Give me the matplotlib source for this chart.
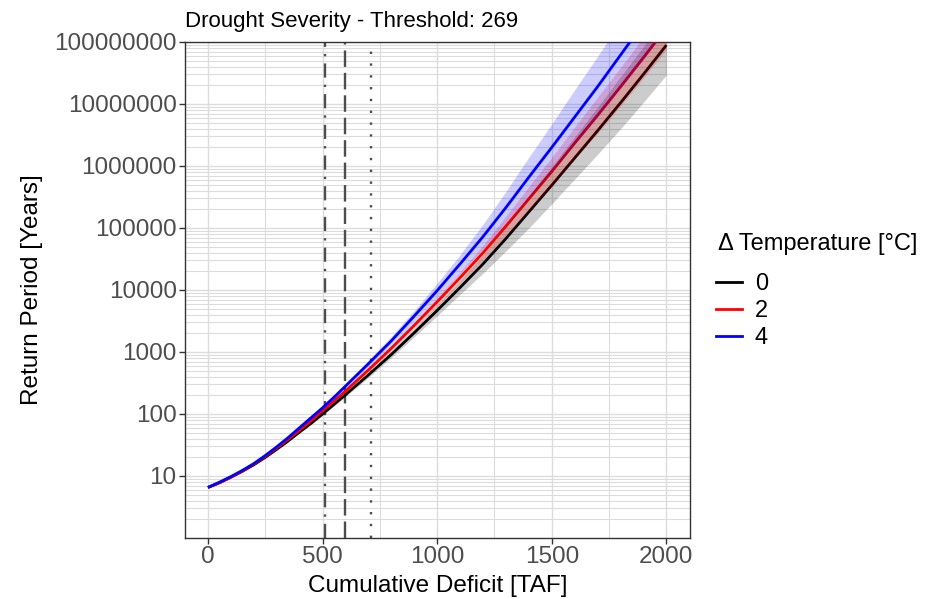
import numpy as np
import matplotlib
matplotlib.use("Agg")
import matplotlib.pyplot as plt
from matplotlib.ticker import FixedLocator, NullFormatter, MultipleLocator
from matplotlib.lines import Line2D

plt.rcParams['font.family'] = ['Liberation Sans', 'DejaVu Sans']

# ---- data ----
deficit = [0, 50, 100, 150, 200, 250, 300, 350, 400, 450, 500, 550, 600,
           650, 700, 750, 800, 850, 900, 950, 1000,
           1100, 1200, 1300, 1400, 1500, 1600, 1700, 1800, 1900, 2000]

# log10(return period) of the central estimate per temperature change
log_T_0 = [0.815, 0.89, 0.98, 1.075, 1.18, 1.30, 1.43, 1.565, 1.71, 1.85, 2.00,
           2.155, 2.31, 2.47, 2.63, 2.795, 2.96, 3.135, 3.31, 3.49, 3.67,
           4.04, 4.42, 4.83, 5.26, 5.69, 6.13, 6.57, 7.02, 7.48, 7.95]
log_T_2 = [0.815, 0.89, 0.98, 1.08, 1.19, 1.315, 1.45, 1.59, 1.74, 1.89, 2.05,
           2.21, 2.37, 2.54, 2.71, 2.885, 3.06, 3.245, 3.43, 3.62, 3.81,
           4.20, 4.60, 5.03, 5.47, 5.91, 6.37, 6.82, 7.28, 7.75, 8.23]
log_T_4 = [0.815, 0.90, 0.99, 1.09, 1.20, 1.33, 1.47, 1.62, 1.78, 1.94, 2.10,
           2.27, 2.45, 2.63, 2.81, 2.995, 3.18, 3.38, 3.58, 3.785, 3.99,
           4.42, 4.86, 5.33, 5.82, 6.30, 6.79, 7.28, 7.79, 8.30, 8.82]

# half-width of the uncertainty band (in log10 units)
band_0 = [0, 0.002, 0.003, 0.005, 0.006, 0.008, 0.01, 0.012, 0.015, 0.018, 0.022,
          0.026, 0.03, 0.035, 0.04, 0.045, 0.05, 0.057, 0.065, 0.075, 0.085,
          0.11, 0.15, 0.20, 0.26, 0.30, 0.34, 0.38, 0.42, 0.45, 0.48]
band_2 = [0, 0.002, 0.003, 0.004, 0.005, 0.0065, 0.008, 0.01, 0.012, 0.015, 0.018,
          0.021, 0.025, 0.029, 0.033, 0.037, 0.042, 0.048, 0.055, 0.062, 0.07,
          0.09, 0.12, 0.16, 0.20, 0.23, 0.26, 0.29, 0.31, 0.33, 0.35]
band_4 = [0, 0.002, 0.004, 0.006, 0.008, 0.01, 0.013, 0.016, 0.02, 0.025, 0.03,
          0.035, 0.04, 0.047, 0.055, 0.062, 0.07, 0.08, 0.09, 0.105, 0.12,
          0.15, 0.20, 0.26, 0.32, 0.38, 0.44, 0.49, 0.54, 0.58, 0.62]

temps = ['0', '2', '4']
colors = ['#000000', '#FF0000', '#0000FF']
legend_title = 'Δ Temperature [°C]'

# reference deficits (vertical lines)
vline_x = [511, 596, 711]
vline_styles = [(0, (6, 3, 1, 3)), (0, (7, 2.5)), (0, (1, 4))]

y_breaks = [10, 100, 1000, 10000, 100000, 1000000, 10000000, 100000000]
y_labels = ['10', '100', '1000', '10000', '100000', '1000000', '10000000', '100000000']
x_breaks = [0, 500, 1000, 1500, 2000]

# ---- figure ----
fig = plt.figure(figsize=(9.29, 5.99), dpi=100)
ax = fig.add_axes([185 / 929, 1 - 538 / 599, (690 - 185) / 929, (538 - 42) / 599])

ax.set_yscale('log')
ax.set_xlim(-100, 2103)
ax.set_ylim(1, 1e8)

x = np.array(deficit, dtype=float)
series = [(log_T_0, band_0), (log_T_2, band_2), (log_T_4, band_4)]

for xv, ls in zip(vline_x, vline_styles):
    ax.axvline(xv, color='#4D4D4D', lw=1.7, linestyle=ls, zorder=2)

for (c, b), col in zip(series, colors):
    c = np.array(c)
    ax.plot(x, 10 ** c, color=col, lw=2.0, zorder=3, solid_capstyle='butt')
for (c, b), col in zip(series, colors):
    c = np.array(c); b = np.array(b)
    ax.fill_between(x, 10 ** (c - b), 10 ** (c + b), color=col, alpha=0.2,
                    lw=0, zorder=4)

# grid
ax.yaxis.set_major_locator(FixedLocator(y_breaks))
ax.set_yticklabels(y_labels)
minor_y = [m * 10 ** k for k in range(0, 8) for m in range(1, 10)] + [1e8]
ax.yaxis.set_minor_locator(FixedLocator(minor_y))
ax.yaxis.set_minor_formatter(NullFormatter())
ax.xaxis.set_major_locator(FixedLocator(x_breaks))
ax.xaxis.set_minor_locator(MultipleLocator(250))
ax.set_axisbelow(True)
ax.grid(which='major', color='#DCDCDC', lw=1.0)
ax.grid(which='minor', color='#DCDCDC', lw=0.8)

ax.tick_params(which='minor', length=0)
ax.tick_params(which='major', length=4, width=1, color='#333333',
               labelsize=17.5, labelcolor='#4D4D4D', pad=2)
for s in ax.spines.values():
    s.set_color('#333333')
    s.set_linewidth(1.0)

ax.set_xlabel('Cumulative Deficit [TAF]', fontsize=17.5, labelpad=5)
ax.set_ylabel('Return Period [Years]', fontsize=17.5, labelpad=8)
ax.set_title('Drought Severity - Threshold: 269', fontsize=16, loc='left', pad=11)

fig.text(718 / 929, 1 - 244 / 599, legend_title, fontsize=17, ha='left', va='center')
handles = [Line2D([0], [0], color=col, lw=2.0) for col in colors]
leg = fig.legend(handles, temps, loc='upper left',
                 bbox_to_anchor=(716 / 929, 1 - 273 / 599), frameon=False, fontsize=17,
                 handlelength=1.1, handletextpad=0.55, labelspacing=0.22,
                 borderpad=0, borderaxespad=0)

fig.savefig('out.png', dpi=100)
